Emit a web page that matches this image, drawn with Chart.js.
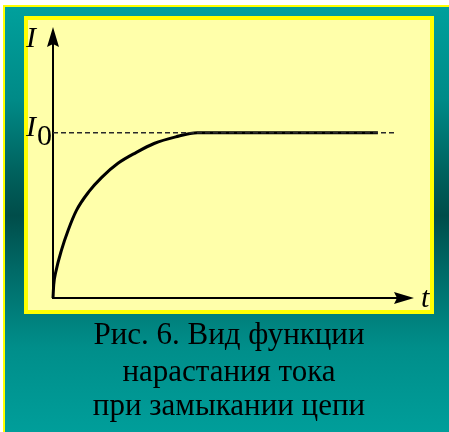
<!DOCTYPE html>
<html>
<head>
<meta charset="utf-8">
<script src="https://cdn.jsdelivr.net/npm/chart.js@4.4.1/dist/chart.umd.min.js"></script>
<style>
  html, body { margin: 0; padding: 0; background: #ffffff; }
  #stage { position: relative; width: 449px; height: 432px; overflow: hidden; background: #ffffff; }
  #frame {
    position: absolute; left: 3px; top: 5px; width: 446px; height: 427px;
    box-sizing: border-box;
    border-left: 2px solid #ffff00; border-top: 2px solid #ffff00;
    background: linear-gradient(to bottom, #00a09c 0%, #008a87 22%, #005f5b 40%, #004d4a 49%, #006a67 62%, #008e8a 80%, #009e9a 100%);
  }
  #panel {
    position: absolute; left: 24px; top: 16px; width: 410px; height: 298px;
    box-sizing: border-box; border: 4px solid #ffff00; background: #ffffaa;
  }
  canvas#chart { position: absolute; left: 0; top: 0; }
  .lbl { position: absolute; font-family: "Liberation Serif", "Times New Roman", serif; font-size: 30px; line-height: 30px; color: #000; white-space: nowrap; }
  .it { font-style: italic; }
  .cap { position: absolute; left: 0; width: 458px; text-align: center; font-family: "Liberation Serif", "Times New Roman", serif; font-size: 31px; line-height: 31px; color: #000; white-space: nowrap; }
</style>
</head>
<body>
<div id="stage">
  <div id="frame"></div>
  <div id="panel"></div>
  <canvas id="chart" width="449" height="432"></canvas>
  <div class="lbl it" style="left:26px; top:22px;">I</div>
  <div class="lbl" style="left:26px; top:111px;"><span class="it">I</span><span style="position:relative; top:9px; margin-left:1px;">0</span></div>
  <div class="lbl it" style="left:421px; top:282px;">t</div>
  <div class="cap" style="top:317.5px;">Рис. 6. Вид функции</div>
  <div class="cap" style="top:355px;">нарастания тока</div>
  <div class="cap" style="top:389px;">при замыкании цепи</div>
</div>
<script>
// Curve (time in arbitrary units, current relative to I0)
const timeValues    = [0, 0.02, 0.08, 0.235, 0.42, 0.65, 1.0, 1.35, 1.8, 2.3, 2.8, 3.4, 4.0, 9.0];
const currentValues = [0, 0.08, 0.16, 0.29, 0.41, 0.53, 0.645, 0.73, 0.815, 0.88, 0.935, 0.975, 1.0, 1.0];
// Asymptote I = I0 (dashed)
const asymptoteTime    = [0, 9.45];
const asymptoteCurrent = [1, 1];
// Axis ranges
const xRange = [0, 10];
const yRange = [0, 1.64];

const curve = timeValues.map((t, i) => ({ x: t, y: currentValues[i] }));
const asym = asymptoteTime.map((t, i) => ({ x: t, y: asymptoteCurrent[i] }));

const axesArrows = {
  id: 'axesArrows',
  beforeDatasetsDraw(chart) {
    const ctx = chart.ctx;
    const xs = chart.scales.x, ys = chart.scales.y;
    const x0 = xs.getPixelForValue(xRange[0]);
    const y0 = ys.getPixelForValue(yRange[0]);
    const xEnd = xs.getPixelForValue(xRange[1]);
    const yEnd = ys.getPixelForValue(yRange[1]);
    ctx.save();
    ctx.strokeStyle = '#000';
    ctx.fillStyle = '#000';
    ctx.lineWidth = 2;
    ctx.beginPath();
    ctx.moveTo(x0, y0 + 1); ctx.lineTo(x0, yEnd + 15);
    ctx.moveTo(x0 - 1, y0); ctx.lineTo(xEnd - 15, y0);
    ctx.stroke();
    // y arrow
    ctx.beginPath();
    ctx.moveTo(x0, yEnd);
    ctx.lineTo(x0 + 6, yEnd + 20);
    ctx.lineTo(x0, yEnd + 17);
    ctx.lineTo(x0 - 6, yEnd + 20);
    ctx.closePath(); ctx.fill();
    // x arrow
    ctx.beginPath();
    ctx.moveTo(xEnd, y0);
    ctx.lineTo(xEnd - 20, y0 - 6);
    ctx.lineTo(xEnd - 17, y0);
    ctx.lineTo(xEnd - 20, y0 + 6);
    ctx.closePath(); ctx.fill();
    ctx.restore();
  }
};

new Chart(document.getElementById('chart'), {
  type: 'scatter',
  data: {
    datasets: [
      {
        data: asym, showLine: true, borderColor: '#2a2a2a', borderWidth: 1.6,
        borderDash: [5, 3], pointRadius: 0, fill: false
      },
      {
        data: curve, showLine: true, borderColor: '#000000', borderWidth: 3,
        cubicInterpolationMode: 'monotone', pointRadius: 0, fill: false
      }
    ]
  },
  options: {
    responsive: false, animation: false,
    layout: { padding: { left: 53, right: 35, top: 27, bottom: 134 } },
    plugins: { legend: { display: false }, tooltip: { enabled: false }, title: { display: false } },
    scales: {
      x: { type: 'linear', min: xRange[0], max: xRange[1], display: false },
      y: { type: 'linear', min: yRange[0], max: yRange[1], display: false }
    },
    elements: { line: { borderCapStyle: 'butt' } },
    clip: false
  },
  plugins: [axesArrows]
});
</script>
</body>
</html>
